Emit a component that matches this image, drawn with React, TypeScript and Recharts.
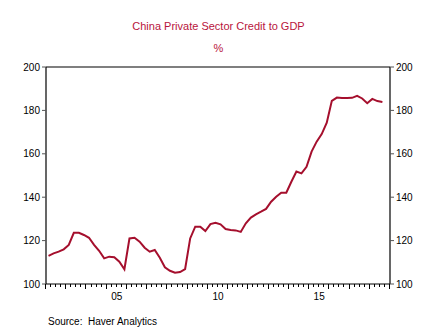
import { LineChart, Line, XAxis, YAxis, ReferenceLine } from "recharts";

// quarterly, 2002Q1 .. 2018Q3
const startYear = 2002;
const endYear = 2019;
const creditToGdp = [
  113.0, 114.1, 114.9, 116.0, 118.0, 123.6, 123.6, 122.6, 121.3, 118.0,
  115.3, 111.8, 112.6, 112.3, 110.3, 106.8, 121.0, 121.3, 119.5, 116.7,
  114.9, 115.7, 112.1, 107.7, 106.1, 105.2, 105.5, 106.9, 121.0, 126.4,
  126.4, 124.4, 127.6, 128.2, 127.5, 125.3, 124.9, 124.7, 124.0, 128.0,
  130.6, 132.1, 133.3, 134.6, 137.9, 140.2, 142.1, 142.1, 147.1, 151.8,
  151.0, 154.0, 161.0, 165.6, 169.1, 174.3, 184.4, 185.9, 185.7, 185.7,
  185.8, 186.7, 185.5, 183.3, 185.3, 184.3, 183.9,
];
const yTicks = [100, 120, 140, 160, 180, 200];
const yearLabels: [number, string][] = [
  [2005, "05"],
  [2010, "10"],
  [2015, "15"],
];

const data = creditToGdp.map((v, i) => ({
  t: startYear + (i + 0.5) / 4,
  value: v,
}));

const quarterTicks: number[] = [];
for (let q = 0; q <= (endYear - startYear) * 4; q++) {
  quarterTicks.push(startYear + q / 4);
}

const LINE = "#a50f2d";
const TITLE = "#b8143c";
const FONT = "'Liberation Sans', Arial, sans-serif";

// quarter marks under the axis, longer at year starts, plus the year labels
function QuarterTick(props: any) {
  const { x, y, payload } = props;
  const v = payload.value as number;
  const isYear = Math.abs(v - Math.round(v)) < 1e-6;
  const lbl = yearLabels.find(([yr]) => Math.abs(yr + 0.5 - v) < 1e-6);
  const px = Math.round(x);
  return (
    <g>
      <rect x={px - 1} y={y} width={1} height={isYear ? 5 : 3} fill="#000" />
      {lbl && (
        <text x={x} y={y + 16} textAnchor="middle" fontSize={10} fill="#000" fontFamily={FONT}>
          {lbl[1]}
        </text>
      )}
    </g>
  );
}

export default function App() {
  return (
    <div
      style={{
        position: "absolute",
        top: 0,
        left: 0,
        width: 437,
        height: 329,
        background: "#fff",
        fontFamily: FONT,
      }}
    >
      <div style={{ position: "absolute", top: 20, width: 437, textAlign: "center", fontSize: 11, color: TITLE }}>
        China Private Sector Credit to GDP
      </div>
      <div style={{ position: "absolute", top: 42, width: 437, textAlign: "center", fontSize: 11, color: TITLE }}>
        %
      </div>
      <LineChart
        width={437}
        height={329}
        data={data}
        margin={{ top: 67, right: 0, bottom: 0, left: 0 }}
      >
        <XAxis
          xAxisId="main"
          dataKey="t"
          type="number"
          domain={[startYear, endYear]}
          ticks={quarterTicks}
          interval={0}
          tickSize={0}
          tickMargin={0}
          tickLine={false}
          tick={<QuarterTick />}
          axisLine={{ stroke: "#000", strokeWidth: 1.2 }}
          height={45}
          allowDataOverflow
        />
        <YAxis
          yAxisId="left"
          orientation="left"
          domain={[100, 200]}
          ticks={yTicks}
          interval={0}
          width={46}
          tickSize={4}
          tickMargin={2}
          tickLine={{ stroke: "#555" }}
          axisLine={{ stroke: "#000", strokeWidth: 1.2 }}
          tick={{ fontSize: 10, fill: "#000", fontFamily: FONT }}
        />
        <YAxis
          yAxisId="right"
          orientation="right"
          domain={[100, 200]}
          ticks={yTicks}
          interval={0}
          width={47}
          tickSize={4}
          tickMargin={2}
          tickLine={{ stroke: "#555" }}
          axisLine={{ stroke: "#000", strokeWidth: 1.2 }}
          tick={{ fontSize: 10, fill: "#000", fontFamily: FONT }}
        />
        <ReferenceLine xAxisId="main" yAxisId="left" y={200} stroke="#000" strokeWidth={1.2} />
        {/* invisible copy so the right axis gets drawn */}
        <Line
          xAxisId="main"
          yAxisId="right"
          type="linear"
          dataKey="value"
          stroke="none"
          dot={false}
          activeDot={false}
          isAnimationActive={false}
        />
        <Line
          xAxisId="main"
          yAxisId="left"
          type="linear"
          dataKey="value"
          stroke={LINE}
          strokeWidth={2}
          dot={false}
          isAnimationActive={false}
        />
      </LineChart>
      <div style={{ position: "absolute", top: 316, left: 48, fontSize: 10, color: "#000", whiteSpace: "pre" }}>
        {"Source:  Haver Analytics"}
      </div>
    </div>
  );
}
